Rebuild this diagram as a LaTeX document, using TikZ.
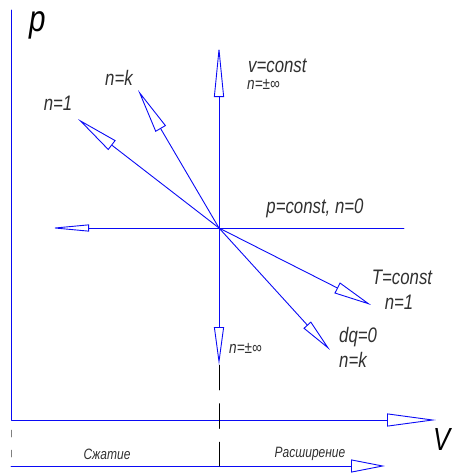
\documentclass[tikz,border=0pt]{standalone}
\usepackage{fontspec}
\setmainfont{Liberation Sans}[FakeStretch=0.8]
\usetikzlibrary{arrows.meta}
\definecolor{chertblue}{HTML}{0A0AF5}
\definecolor{textgray}{HTML}{303030}

\begin{document}
\begin{tikzpicture}[x=1pt, y=-1pt, line cap=round, line join=round,
    bluel/.style={draw=chertblue, line width=0.9pt},
    opentip/.style 2 args={-{Triangle[open, length=#1, width=#2]}},
    lbl/.style={inner sep=0pt, textgray, font=\itshape\fontsize{21}{23}\selectfont},
    lblsmall/.style={inner sep=0pt, textgray, font=\itshape\fontsize{17}{19}\selectfont},
    lblscale/.style={inner sep=0pt, textgray, font=\itshape\fontsize{15}{17}\selectfont}]
  \useasboundingbox (0,0) rectangle (454,474);

  % Оси p-V
  \coordinate (pTop) at (11,10);
  \coordinate (corner) at (11,420);
  \coordinate (vTip) at (436,420);
  \draw[bluel, opentip={49pt}{13pt}] (pTop) -- (corner) -- (vTip);
  \node[inner sep=0pt, black, font=\itshape\fontsize{37}{39}\selectfont] (pLab) at (38,25) {p};
  \node[inner sep=0pt, black, font=\itshape\fontsize{32}{34}\selectfont, anchor=base west] (vLab) at (433,450) {V};

  % Нижняя шкала
  \coordinate (scaleL) at (11,466);
  \coordinate (scaleR) at (385,466);
  \coordinate (tickTop) at (11,430);
  \draw[bluel, opentip={34pt}{13pt}] (scaleL) -- (scaleR);
  \draw[gray, line width=0.5pt, dash pattern=on 7pt off 13pt] (tickTop) -- (scaleL);
  \node[lblscale, anchor=base] (szh) at (107,459) {Сжатие};
  \node[lblscale, anchor=base] (rassh) at (310,457) {Расширение};

  % Процессы из точки O
  \coordinate (O) at (219,228);
  \coordinate (upTip) at (219,45);
  \coordinate (downTip) at (219,365);
  \coordinate (leftTip) at (50,228);
  \coordinate (rightEnd) at (404,228);
  \coordinate (isoTip) at (78,119);
  \coordinate (adiTip) at (138,90);
  \coordinate (isoTipR) at (371,305);
  \coordinate (adiTipR) at (330,350);
  \coordinate (midBot) at (219,466);

  \draw[black, line width=0.5pt, dash pattern=on 25pt off 13.5pt] (downTip) -- (midBot);
  \draw[bluel] (O) -- (rightEnd);
  \draw[bluel, opentip={39pt}{7pt}] (O) -- (leftTip);
  \draw[bluel, opentip={52pt}{10pt}] (O) -- (upTip);
  \draw[bluel, opentip={38pt}{10pt}] (O) -- (downTip);
  \draw[bluel, opentip={43pt}{12pt}] (O) -- (isoTip);
  \draw[bluel, opentip={45pt}{12pt}] (O) -- (adiTip);
  \draw[bluel, opentip={38pt}{12pt}] (O) -- (isoTipR);
  \draw[bluel, opentip={34pt}{10pt}] (O) -- (adiTipR);

  % Подписи
  \node[lbl, anchor=base] (nkTop) at (119,85) {n=k};
  \node[lbl, anchor=base] (n1Top) at (58,110) {n=1};
  \node[lbl, anchor=base west] (vconst) at (248,72) {v=const};
  \node[lblsmall, anchor=base west] (ninfTop) at (247,89) {n=±∞};
  \node[lbl, anchor=base] (pconst) at (315,213) {p=const, n=0};
  \node[lbl, anchor=base] (tconst) at (402,284) {T=const};
  \node[lbl, anchor=base] (n1Right) at (399,309) {n=1};
  \node[lbl, anchor=base west] (dq) at (339,342) {dq=0};
  \node[lbl, anchor=base west] (nkRight) at (339,367) {n=k};
  \node[lblsmall, anchor=base west] (ninfBot) at (229,353) {n=±∞};
\end{tikzpicture}
\end{document}
